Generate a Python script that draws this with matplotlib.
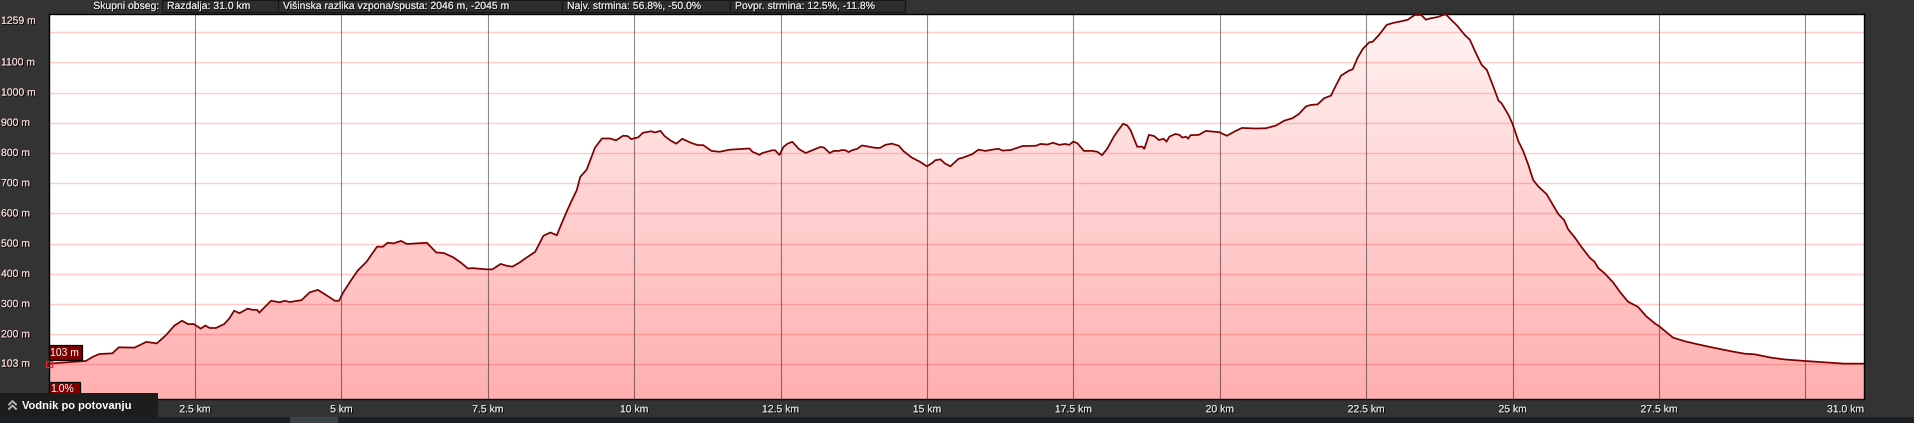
import matplotlib
matplotlib.use('Agg')
import matplotlib.pyplot as plt
import numpy as np
import matplotlib.patheffects as pe
import matplotlib.transforms as mtransforms
from matplotlib.patches import Rectangle, Polygon
from matplotlib.lines import Line2D
from matplotlib.colors import LinearSegmentedColormap

plt.rcParams['font.family'] = ['Liberation Sans', 'DejaVu Sans']

# ---------------- data ----------------
km = [0.0, 0.64, 0.76, 0.87, 1.09, 1.2, 1.47, 1.67, 1.85, 2.01, 2.15, 2.28, 2.38, 2.48,
      2.6, 2.68, 2.75, 2.86, 3.0, 3.09, 3.17, 3.26, 3.4, 3.49, 3.56, 3.6, 3.8, 3.95,
      4.03, 4.12, 4.32, 4.46, 4.6, 4.74, 4.89, 4.96, 5.03, 5.17, 5.28, 5.43, 5.61,
      5.71, 5.79, 5.89, 6.02, 6.12, 6.28, 6.46, 6.62, 6.75, 6.91, 7.05, 7.16, 7.25,
      7.48, 7.58, 7.72, 7.82, 7.92, 8.04, 8.14, 8.31, 8.45, 8.57, 8.68, 8.76, 8.85,
      8.93, 9.02, 9.08, 9.19, 9.25, 9.33, 9.45, 9.59, 9.69, 9.81, 9.89, 9.95, 10.07,
      10.15, 10.29, 10.35, 10.45, 10.52, 10.63, 10.72, 10.82, 10.98, 11.09, 11.18,
      11.32, 11.46, 11.63, 11.97, 12.02, 12.14, 12.19, 12.36, 12.41, 12.48, 12.55,
      12.62, 12.7, 12.82, 12.93, 13.04, 13.18, 13.24, 13.34, 13.41, 13.5, 13.55,
      13.61, 13.66, 13.72, 13.81, 13.89, 14.01, 14.12, 14.2, 14.29, 14.4, 14.52,
      14.6, 14.74, 14.88, 15.0, 15.09, 15.14, 15.23, 15.31, 15.4, 15.54, 15.62,
      15.77, 15.88, 16.0, 16.11, 16.22, 16.29, 16.43, 16.63, 16.86, 16.94, 17.06,
      17.15, 17.26, 17.36, 17.43, 17.5, 17.57, 17.68, 17.82, 17.91, 17.99, 18.08,
      18.19, 18.28, 18.35, 18.42, 18.48, 18.59, 18.68, 18.71, 18.79, 18.88, 18.96,
      19.04, 19.09, 19.14, 19.24, 19.31, 19.36, 19.42, 19.46, 19.5, 19.64, 19.76,
      19.87, 19.99, 20.12, 20.27, 20.38, 20.61, 20.79, 20.96, 21.1, 21.24, 21.35,
      21.47, 21.55, 21.67, 21.78, 21.9, 21.95, 22.07, 22.21, 22.27, 22.35, 22.44,
      22.55, 22.61, 22.72, 22.85, 22.95, 23.1, 23.21, 23.33, 23.44, 23.52, 23.58,
      23.72, 23.8, 23.86, 23.96, 24.05, 24.19, 24.27, 24.36, 24.47, 24.56, 24.67,
      24.76, 24.81, 24.93, 25.0, 25.1, 25.18, 25.27, 25.35, 25.44, 25.58, 25.69,
      25.78, 25.88, 25.95, 26.06, 26.18, 26.32, 26.4, 26.46, 26.57, 26.72, 26.83,
      26.97, 27.14, 27.28, 27.43, 27.5, 27.62, 27.74, 27.94, 28.16, 28.45, 28.73,
      28.96, 29.13, 29.41, 29.64, 29.98, 30.21, 30.44, 30.66, 31.0]
elev = [103, 112, 126, 135, 137, 157, 156, 175, 170, 198, 229, 245, 234, 234,
        219, 229, 221, 221, 234, 253, 278, 270, 285, 281, 281, 272, 311, 306,
        311, 307, 313, 339, 347, 330, 311, 311, 338, 380, 411, 440, 490,
        490, 503, 501, 509, 499, 501, 503, 471, 469, 455, 436, 418, 419,
        415, 415, 433, 427, 424, 437, 451, 473, 526, 537, 528, 566, 607,
        641, 677, 721, 745, 776, 817, 848, 848, 842, 857, 856, 846, 852,
        867, 872, 868, 873, 856, 840, 831, 847, 833, 826, 826,
        807, 804, 811, 815, 804, 794, 800, 809, 809, 793, 820,
        831, 837, 812, 800, 809, 820, 818, 800, 807, 807, 810,
        809, 803, 809, 814, 825, 821, 817, 817, 827, 831, 824,
        806, 785, 771, 756, 767, 776, 779, 765, 756, 781, 785,
        796, 811, 807, 811, 814, 808, 810, 823, 824, 830, 828,
        834, 827, 830, 827, 838, 832, 807, 807, 804, 793, 815,
        854, 879, 897, 891, 874, 821, 821, 813, 860, 856, 843,
        847, 838, 854, 863, 860, 851, 854, 848, 859, 860, 873,
        871, 869, 857, 873, 883, 881, 882, 891, 907, 915, 929,
        954, 959, 961, 981, 990, 1011, 1056, 1073, 1077, 1114, 1144,
        1166, 1168, 1191, 1224, 1230, 1236, 1241, 1257, 1257, 1241, 1245,
        1250, 1256, 1259, 1239, 1222, 1189, 1175, 1136, 1092, 1075, 1020,
        973, 965, 926, 896, 838, 807, 760, 711, 689, 664, 628,
        598, 578, 547, 521, 488, 453, 440, 420, 402, 371, 341,
        308, 291, 260, 236, 227, 208, 189, 177, 167, 155, 144,
        136, 134, 123, 117, 112, 109, 106, 103, 103]

x_ticks = [2.5, 5, 7.5, 10, 12.5, 15, 17.5, 20, 22.5, 25, 27.5, 30]
x_tick_labels = ['2.5 km', '5 km', '7.5 km', '10 km', '12.5 km', '15 km', '17.5 km',
                 '20 km', '22.5 km', '25 km', '27.5 km', '']
x_end_label = '31.0 km'
y_grid = [103, 200, 300, 400, 500, 600, 700, 800, 900, 1000, 1100, 1200]
y_labels = [103, 200, 300, 400, 500, 600, 700, 800, 900, 1000, 1100]
y_top = 1259
y_bottom = -14
x_max = 31.0

header_title = 'Skupni obseg:'
header_items = ['Razdalja: 31.0 km',
                'Višinska razlika vzpona/spusta: 2046 m, -2045 m',
                'Najv. strmina: 56.8%, -50.0%',
                'Povpr. strmina: 12.5%, -11.8%']
start_elev_label = '103 m'
start_grade_label = '1.0%'
guide_label = 'Vodnik po potovanju'

# ---------------- layout helpers ----------------
W, H = 1914, 423
def fx(px):
    return px / W
def fy(py):
    return 1 - py / H

BG = '#333333'
fig = plt.figure(figsize=(W / 100, H / 100), dpi=100, facecolor=BG)

shadow = [pe.withSimplePatchShadow(offset=(0.75, -0.75), shadow_rgbFace='black', alpha=0.9),
          pe.Normal()]

ax_l, ax_r, ax_t, ax_b = 48.5, 1864, 14.3, 399
ax = fig.add_axes([fx(ax_l), fy(ax_b), fx(ax_r - ax_l), (ax_b - ax_t) / H])
ax.set_facecolor('white')

# gradient fill under profile
cmap = LinearSegmentedColormap.from_list('g', ['#ffafaf', '#fff3f3'])
grad = np.linspace(0, 1, 256).reshape(-1, 1)
im = ax.imshow(grad, extent=[0, x_max, y_bottom, y_top], origin='lower',
               aspect='auto', cmap=cmap, zorder=1, interpolation='bilinear')
verts = [(km[0], y_bottom)] + list(zip(km, elev)) + [(km[-1], y_bottom)]
clip = Polygon(verts, closed=True, facecolor='none', edgecolor='none')
ax.add_patch(clip)
im.set_clip_path(clip)

ax.plot(km, elev, color='#7d0000', lw=1.25, zorder=4, solid_joinstyle='miter')
ax.plot([km[0]], [elev[0]], marker='s', ms=5, mfc='none', mec='#ff1a1a', mew=0.9,
        zorder=6, clip_on=False)

ax.set_xlim(0, x_max)
ax.set_ylim(y_bottom, y_top)

ax.set_axisbelow(False)
ax.set_yticks(y_grid)
ax.set_xticks(x_ticks)
ax.set_xticklabels(x_tick_labels)
ax.yaxis.grid(True, color=(1, 0, 0), alpha=0.2, lw=1.0)
ax.xaxis.grid(True, color='black', alpha=0.45, lw=0.8)
ax.tick_params(axis='y', left=False, labelleft=False)
ax.tick_params(axis='x', length=0, pad=3.8, labelsize=7.5, labelcolor='#dcdcdc')
for lbl in ax.get_xticklabels():
    lbl.set_path_effects(shadow)
for sp in ax.spines.values():
    sp.set_color('black')
    sp.set_linewidth(1.0)

ax.annotate(x_end_label, xy=(x_max, 0), xycoords=('data', 'axes fraction'),
            xytext=(0, -3.8), textcoords='offset points', ha='right', va='top',
            fontsize=7.5, color='#dcdcdc', path_effects=shadow, annotation_clip=False)

# y labels, left aligned at figure edge
blend = mtransforms.blended_transform_factory(fig.transFigure, ax.transData)
for v in y_labels:
    ax.text(fx(1), v, f'{v} m', transform=blend, ha='left', va='center',
            fontsize=7.5, color='#f4cfcf', path_effects=shadow, clip_on=False)
top_tr = blend + mtransforms.ScaledTranslation(0, -6.5 / 100, fig.dpi_scale_trans)
ax.text(fx(1), y_top, f'{y_top} m', transform=top_tr, ha='left', va='center',
        fontsize=7.5, color='#f4cfcf', path_effects=shadow, clip_on=False)

# start badges
def badge(x0, y0, x1, y1, text):
    fig.patches.append(Rectangle((fx(x0), fy(y1)), fx(x1 - x0), (y1 - y0) / H,
                                 transform=fig.transFigure, facecolor='#7a0000',
                                 edgecolor='black', lw=0.9, zorder=10))
    fig.text(fx(x0 + 2), fy((y0 + y1) / 2), text, ha='left', va='center',
             fontsize=7.5, color='white', zorder=11)

badge(48.5, 345, 82, 360, start_elev_label)
badge(48.5, 382, 80, 396, start_grade_label)

# header bar
fig.text(fx(159), fy(6), header_title, ha='right', va='center', fontsize=7.5,
         color='#e2e2e2', path_effects=shadow)
box_edges = [162, 278, 562, 730, 905]
for i, item in enumerate(header_items):
    x0, x1 = box_edges[i], box_edges[i + 1]
    fig.patches.append(Rectangle((fx(x0), fy(12.5)), fx(x1 - x0), 12.5 / H,
                                 transform=fig.transFigure, facecolor='#2d2d2d',
                                 edgecolor='#161616', lw=0.8, zorder=2))
    fig.text(fx(x0 + 5), fy(6), item, ha='left', va='center', fontsize=7.5,
             color='#e2e2e2', path_effects=shadow, zorder=3)

# bottom strip
fig.patches.append(Rectangle((0, 0), 1, 6 / H, transform=fig.transFigure,
                             facecolor='#1a2023', edgecolor='none', zorder=2))
fig.patches.append(Rectangle((fx(290), 0), fx(48), 6 / H, transform=fig.transFigure,
                             facecolor='#3a4448', edgecolor='none', zorder=3))

# guide box
fig.patches.append(Rectangle((0, fy(417)), fx(158), 24 / H, transform=fig.transFigure,
                             facecolor='#1d1d1d', edgecolor='none', zorder=12))
for yy in (401, 405.5):
    fig.add_artist(Line2D([fx(9), fx(12.5), fx(16)], [fy(yy + 3.5), fy(yy), fy(yy + 3.5)],
                          transform=fig.transFigure, color='#b8b8b8', lw=1.3, zorder=13))
fig.text(fx(22), fy(406), guide_label, ha='left', va='center', fontsize=8,
         fontweight='bold', color='white', zorder=13)

fig.savefig('out.png', dpi=100, facecolor=BG)
